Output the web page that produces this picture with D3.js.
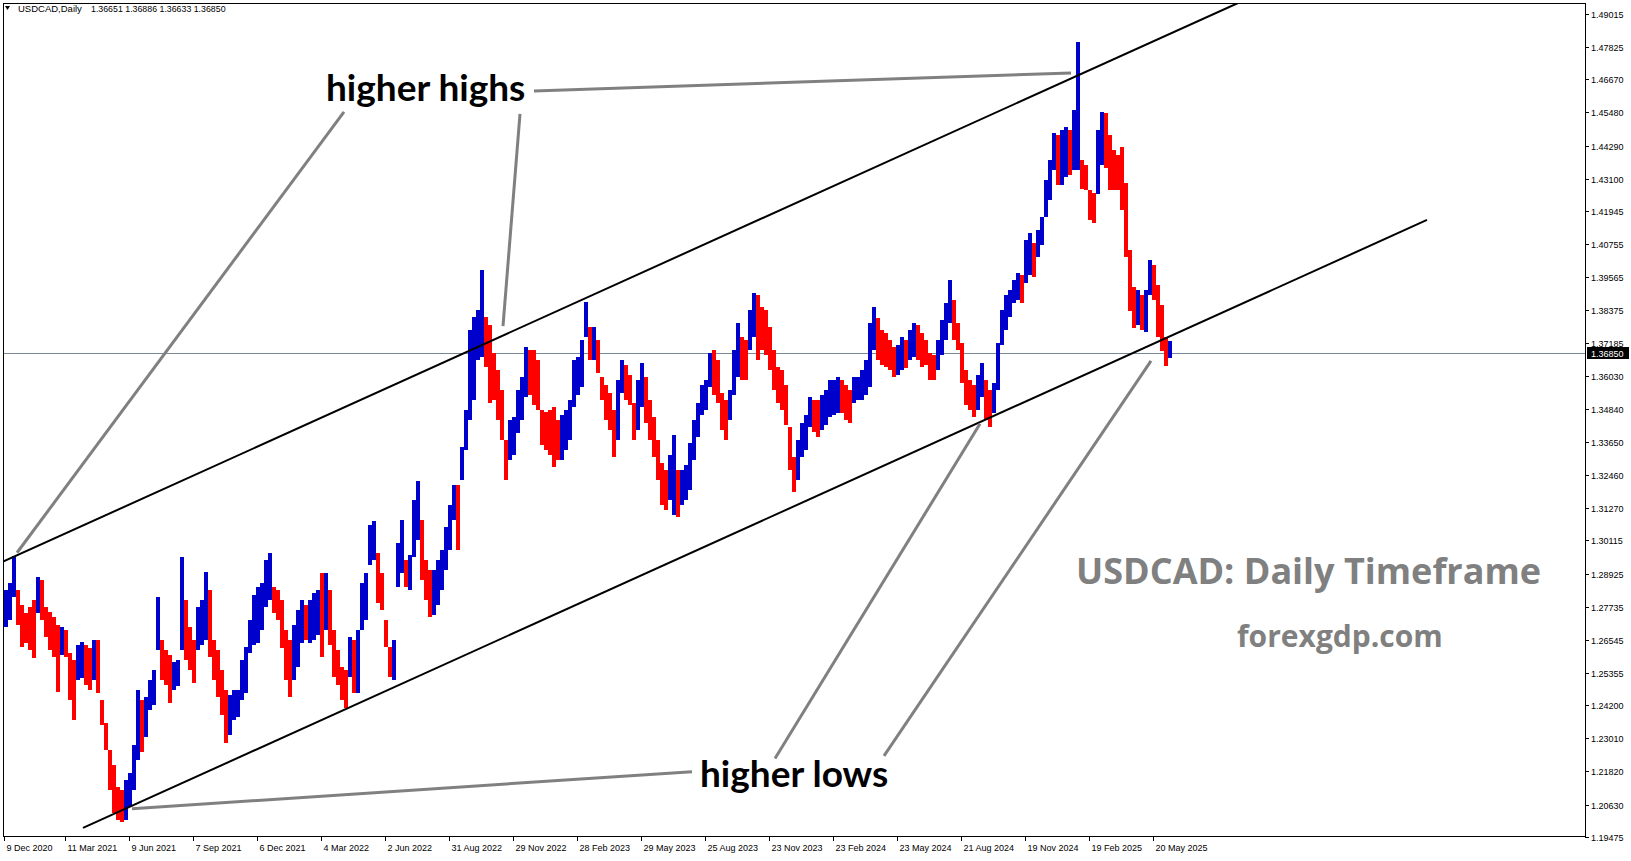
<!DOCTYPE html>
<html><head><meta charset="utf-8">
<script src="https://cdn.jsdelivr.net/npm/d3@7"></script>
<style>
html,body{margin:0;padding:0;background:#fff;}
svg{display:block;}
</style></head><body>
<svg id="chart" width="1631" height="861"></svg>
<script>
// ---------------- DATA ----------------
const symbolName = "USDCAD,Daily";
const lastOHLC = [1.36651, 1.36886, 1.36633, 1.36850];
const currentPrice = 1.36850;
const barsPerGroup = 4; // each entry = high/low of 4 consecutive daily bars

const groupHigh = [
1.2834,1.2859,1.2956,1.2834,1.2780,1.2751,1.2773,1.2798,1.2881,1.2870,
1.2773,1.2755,1.2737,1.2708,1.2701,1.2690,1.2608,1.2583,1.2636,1.2647,
1.2636,1.2625,1.2654,1.2654,1.2439,1.2356,1.2260,1.2206,1.2127,1.2116,
1.2152,1.2177,1.2278,1.2475,1.2439,1.2450,1.2511,1.2547,1.2809,1.2654,
1.2619,1.2601,1.2576,1.2583,1.2953,1.2798,1.2701,1.2654,1.2773,1.2798,
1.2899,1.2834,1.2654,1.2619,1.2547,1.2475,1.2457,1.2475,1.2475,1.2583,
1.2629,1.2726,1.2816,1.2845,1.2859,1.2942,1.2967,1.2845,1.2834,1.2798,
1.2690,1.2654,1.2708,1.2762,1.2798,1.2780,1.2798,1.2823,1.2834,1.2895,
1.2895,1.2834,1.2690,1.2619,1.2558,1.2547,1.2665,1.2654,1.2690,1.2859,
1.2895,1.3067,1.3081,1.2967,1.2895,1.2726,1.2629,1.2654,1.3002,1.3085,
1.2942,1.2960,1.3157,1.3225,1.3085,1.2942,1.2906,1.2906,1.2942,1.2978,
1.3060,1.3139,1.3211,1.3211,1.3347,1.3480,1.3767,1.3814,1.3839,1.3983,
1.3814,1.3785,1.3685,1.3624,1.3552,1.3372,1.3444,1.3455,1.3552,1.3598,
1.3706,1.3696,1.3696,1.3660,1.3480,1.3473,1.3480,1.3491,1.3444,1.3462,
1.3480,1.3516,1.3660,1.3670,1.3731,1.3868,1.3778,1.3778,1.3731,1.3598,
1.3570,1.3541,1.3480,1.3588,1.3660,1.3642,1.3606,1.3505,1.3588,1.3649,
1.3598,1.3516,1.3455,1.3372,1.3290,1.3265,1.3319,1.3390,1.3265,1.3265,
1.3283,1.3362,1.3444,1.3505,1.3570,1.3588,1.3685,1.3696,1.3660,1.3541,
1.3516,1.3552,1.3696,1.3793,1.3742,1.3731,1.3839,1.3900,1.3893,1.3850,
1.3839,1.3778,1.3696,1.3634,1.3624,1.3570,1.3419,1.3311,1.3372,1.3433,
1.3462,1.3527,1.3516,1.3516,1.3534,1.3552,1.3588,1.3588,1.3598,1.3588,
1.3570,1.3552,1.3598,1.3598,1.3624,1.3660,1.3793,1.3850,1.3810,1.3767,
1.3757,1.3731,1.3706,1.3713,1.3742,1.3731,1.3767,1.3793,1.3785,1.3757,
1.3731,1.3685,1.3678,1.3731,1.3803,1.3864,1.3947,1.3875,1.3793,1.3721,
1.3624,1.3588,1.3570,1.3606,1.3649,1.3588,1.3552,1.3577,1.3721,1.3839,
1.3893,1.3911,1.3947,1.3972,1.3965,1.4090,1.4116,1.4080,1.4126,1.4173,
1.4306,1.4378,1.4475,1.4467,1.4485,1.4496,1.4485,1.4557,1.4801,1.4378,
1.4360,1.4270,1.4259,1.4485,1.4550,1.4546,1.4467,1.4414,1.4396,1.4424,
1.4295,1.4055,1.3922,1.3911,1.3893,1.3911,1.4019,1.4001,1.3929,1.3857,
1.3742,1.3728
];
const groupLow = [
1.2701,1.2726,1.2809,1.2708,1.2629,1.2643,1.2619,1.2590,1.2751,1.2726,
1.2665,1.2619,1.2594,1.2468,1.2601,1.2594,1.2439,1.2367,1.2511,1.2518,
1.2493,1.2475,1.2511,1.2464,1.2349,1.2260,1.2116,1.2033,1.2008,1.2001,
1.2008,1.2055,1.2116,1.2224,1.2253,1.2306,1.2403,1.2421,1.2619,1.2511,
1.2493,1.2428,1.2475,1.2489,1.2619,1.2583,1.2547,1.2500,1.2619,1.2636,
1.2654,1.2594,1.2511,1.2450,1.2385,1.2284,1.2313,1.2367,1.2378,1.2439,
1.2464,1.2608,1.2636,1.2643,1.2690,1.2773,1.2798,1.2751,1.2726,1.2625,
1.2511,1.2450,1.2511,1.2558,1.2643,1.2654,1.2643,1.2654,1.2672,1.2594,
1.2690,1.2636,1.2522,1.2493,1.2439,1.2410,1.2522,1.2464,1.2464,1.2690,
1.2726,1.2924,1.2942,1.2787,1.2762,1.2629,1.2522,1.2511,1.2845,1.2895,
1.2845,1.2834,1.2953,1.3013,1.2870,1.2798,1.2737,1.2744,1.2780,1.2834,
1.2906,1.2978,1.3085,1.2978,1.3229,1.3337,1.3444,1.3516,1.3660,1.3670,
1.3634,1.3505,1.3516,1.3444,1.3372,1.3229,1.3301,1.3319,1.3397,1.3444,
1.3527,1.3534,1.3498,1.3480,1.3354,1.3337,1.3319,1.3276,1.3301,1.3301,
1.3337,1.3372,1.3491,1.3534,1.3563,1.3742,1.3660,1.3660,1.3613,1.3516,
1.3444,1.3408,1.3311,1.3372,1.3541,1.3516,1.3498,1.3372,1.3408,1.3491,
1.3433,1.3372,1.3311,1.3229,1.3139,1.3121,1.3157,1.3103,1.3096,1.3139,
1.3157,1.3193,1.3301,1.3383,1.3462,1.3480,1.3563,1.3534,1.3505,1.3408,
1.3372,1.3444,1.3534,1.3598,1.3588,1.3588,1.3696,1.3742,1.3660,1.3696,
1.3678,1.3624,1.3552,1.3505,1.3480,1.3426,1.3265,1.3186,1.3229,1.3311,
1.3337,1.3419,1.3401,1.3383,1.3408,1.3426,1.3455,1.3462,1.3469,1.3469,
1.3444,1.3433,1.3505,1.3516,1.3516,1.3534,1.3563,1.3696,1.3660,1.3642,
1.3634,1.3624,1.3598,1.3606,1.3624,1.3631,1.3660,1.3670,1.3660,1.3634,
1.3642,1.3588,1.3588,1.3624,1.3678,1.3731,1.3793,1.3731,1.3696,1.3577,
1.3498,1.3480,1.3455,1.3480,1.3527,1.3444,1.3419,1.3469,1.3552,1.3713,
1.3767,1.3814,1.3864,1.3875,1.3864,1.3936,1.3965,1.3958,1.4029,1.4072,
1.4173,1.4234,1.4342,1.4288,1.4288,1.4317,1.4324,1.4342,1.4342,1.4273,
1.4270,1.4162,1.4151,1.4256,1.4360,1.4349,1.4270,1.4270,1.4270,1.4198,
1.4029,1.3836,1.3774,1.3785,1.3767,1.3760,1.3893,1.3875,1.3742,1.3692,
1.3638,1.3667
];

const yTickValues = [1.49015,1.47825,1.46670,1.45480,1.44290,1.43100,1.41945,1.40755,
  1.39565,1.38375,1.37185,1.36030,1.34840,1.33650,1.32460,1.31270,1.30115,1.28925,
  1.27735,1.26545,1.25355,1.24200,1.23010,1.21820,1.20630,1.19475];

const xTickBars = [0,61,125,189,253,317,381,445,509,573,637,701,765,829,893,957,1021,1085,1149];
const xTickLabels = ["9 Dec 2020","11 Mar 2021","9 Jun 2021","7 Sep 2021","6 Dec 2021",
  "4 Mar 2022","2 Jun 2022","31 Aug 2022","29 Nov 2022","28 Feb 2023","29 May 2023",
  "25 Aug 2023","23 Nov 2023","23 Feb 2024","23 May 2024","21 Aug 2024","19 Nov 2024",
  "19 Feb 2025","20 May 2025"];

// trend channel lines: [bar index, price]
const channelUpper = [[-1, 1.2935], [1234, 1.4941]];
const channelLower = [[79, 1.1979], [1423, 1.4162]];

// annotation pointer lines: [[bar, price],[bar, price]]
const highPointers = [
  [[340, 1.4550], [13, 1.2967]],
  [[516, 1.4543], [499, 1.3781]],
  [[530, 1.4625], [1067, 1.4690]]
];
const lowPointers = [
  [[688, 1.2181], [128, 1.2048]],
  [[771, 1.2228], [976, 1.3430]],
  [[880, 1.2238], [1147, 1.3656]]
];
const annotationLabels = [
  {text: "higher highs", bar: 322, price: 1.4590},
  {text: "higher lows", bar: 696, price: 1.2125}
];
const watermarkTitle = "USDCAD: Daily Timeframe";
const watermarkSite = "forexgdp.com";

// ---------------- CHART ----------------
const svg = d3.select("#chart");
const W = 1631, H = 861;
const plot = {left: 3, top: 3, right: 1585, bottom: 836};
const axisFont = "'Liberation Sans', Arial, sans-serif";

const x = d3.scaleLinear().domain([0, plot.right - 4]).range([4, plot.right]);
const y = d3.scaleLinear().domain([1.19475, 1.49015]).range([836.7, 14]);

svg.append("rect").attr("width", W).attr("height", H).attr("fill", "#fff");

const defs = svg.append("defs");
defs.append("clipPath").attr("id", "plotClip").append("rect")
  .attr("x", plot.left).attr("y", plot.top)
  .attr("width", plot.right - plot.left).attr("height", plot.bottom - plot.top);

const g = svg.append("g").attr("clip-path", "url(#plotClip)");

// current price line
g.append("line")
  .attr("x1", plot.left).attr("x2", plot.right)
  .attr("y1", Math.round(y(currentPrice)) + 0.5).attr("y2", Math.round(y(currentPrice)) + 0.5)
  .attr("stroke", "#778899").attr("stroke-width", 1);

// bars
const groups = groupHigh.map((h, i) => ({i, h, l: groupLow[i], mid: (h + groupLow[i]) / 2}));
groups.forEach((d, i) => { d.up = i === 0 ? true : d.mid >= groups[i - 1].mid; });
g.append("g").attr("shape-rendering", "crispEdges")
  .selectAll("rect").data(groups).join("rect")
  .attr("x", d => x(d.i * barsPerGroup))
  .attr("width", d => x((d.i + 1) * barsPerGroup) - x(d.i * barsPerGroup))
  .attr("y", d => y(d.h))
  .attr("height", d => y(d.l) - y(d.h))
  .attr("fill", d => d.up ? "#0000cd" : "#ff0000");

// channel lines
[channelUpper, channelLower].forEach(pts => {
  g.append("line")
    .attr("x1", x(pts[0][0])).attr("y1", y(pts[0][1]))
    .attr("x2", x(pts[1][0])).attr("y2", y(pts[1][1]))
    .attr("stroke", "#000").attr("stroke-width", 2);
});

// pointer lines
highPointers.concat(lowPointers).forEach(seg => {
  g.append("line")
    .attr("x1", x(seg[0][0])).attr("y1", y(seg[0][1]))
    .attr("x2", x(seg[1][0])).attr("y2", y(seg[1][1]))
    .attr("stroke", "#808080").attr("stroke-width", 3);
});

// annotation labels
annotationLabels.forEach(a => {
  g.append("text")
    .attr("x", x(a.bar)).attr("y", y(a.price))
    .attr("font-family", "Lato, 'Open Sans', sans-serif")
    .attr("font-weight", 700).attr("font-size", 37)
    .attr("fill", "#000").text(a.text);
});

// watermark
g.append("text").attr("x", 1076).attr("y", 584)
  .attr("font-family", "'Open Sans', sans-serif").attr("font-weight", 700)
  .attr("font-size", 36).attr("fill", "#808080").text(watermarkTitle);
g.append("text").attr("x", 1237).attr("y", 647)
  .attr("font-family", "'Open Sans', sans-serif").attr("font-weight", 700)
  .attr("font-size", 30).attr("fill", "#808080").text(watermarkSite);

// frame
svg.append("rect")
  .attr("x", plot.left + 0.5).attr("y", plot.top + 0.5)
  .attr("width", plot.right - plot.left).attr("height", plot.bottom - plot.top)
  .attr("fill", "none").attr("stroke", "#000").attr("stroke-width", 1)
  .attr("shape-rendering", "crispEdges");

// right price axis
const yAxisG = svg.append("g").attr("font-family", axisFont).attr("font-size", 9);
yTickValues.forEach(v => {
  const yy = Math.round(y(v)) + 0.5;
  yAxisG.append("line").attr("x1", plot.right).attr("x2", plot.right + 4)
    .attr("y1", yy).attr("y2", yy).attr("stroke", "#000").attr("shape-rendering", "crispEdges");
  yAxisG.append("text").attr("x", plot.right + 6).attr("y", yy)
    .attr("dy", "0.35em").attr("fill", "#000").text(v.toFixed(5));
});
// current price tag
const cy = Math.round(y(currentPrice));
yAxisG.append("rect").attr("x", plot.right + 2).attr("y", cy - 6)
  .attr("width", 42).attr("height", 12).attr("fill", "#000");
yAxisG.append("text").attr("x", plot.right + 6).attr("y", cy + 0.5)
  .attr("dy", "0.35em").attr("fill", "#fff").text(currentPrice.toFixed(5));

// bottom time axis
const xAxisG = svg.append("g").attr("font-family", axisFont).attr("font-size", 9);
xTickBars.forEach((b, i) => {
  const xx = Math.round(x(b)) + 0.5;
  xAxisG.append("line").attr("x1", xx).attr("x2", xx)
    .attr("y1", plot.bottom).attr("y2", plot.bottom + 5)
    .attr("stroke", "#000").attr("shape-rendering", "crispEdges");
  xAxisG.append("text").attr("x", Math.max(xx + 2, plot.left)).attr("y", 851)
    .attr("fill", "#000").text(xTickLabels[i]);
});

// header
const hdr = svg.append("g").attr("font-family", axisFont).attr("fill", "#000");
hdr.append("path").attr("d", "M5,6 L10,6 L7.5,10 Z").attr("fill", "#000");
const ht = hdr.append("text").attr("x", 18).attr("y", 12).attr("font-size", 9.5);
ht.append("tspan").text(symbolName);
ht.append("tspan").attr("x", 91).attr("font-size", 8.8)
  .text(lastOHLC.map(v => v.toFixed(5)).join(" "));
</script>
</body></html>
